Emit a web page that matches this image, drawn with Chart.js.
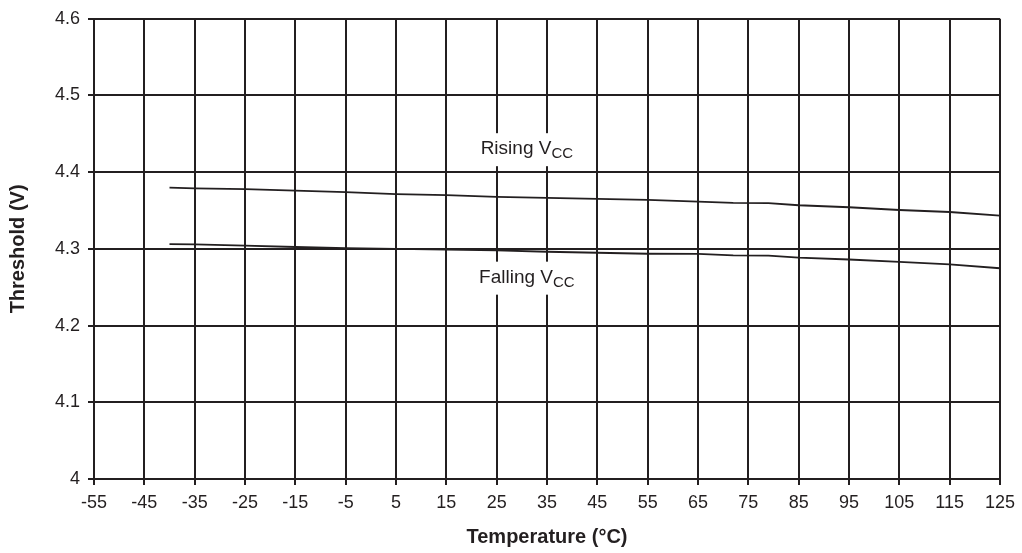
<!DOCTYPE html>
<html>
<head>
<meta charset="utf-8">
<script src="https://cdn.jsdelivr.net/npm/chart.js@4/dist/chart.umd.min.js"></script>
<style>
  html, body { margin: 0; padding: 0; background: #fff; }
  canvas { display: block; }
</style>
</head>
<body>
<canvas id="chart" width="1022" height="553"></canvas>
<script>
    "use strict";

    // temperatures (°C) of the sampled points
    var temps = [-40, -35, -25, -15, -5, 5, 15, 25, 35, 45, 55, 65, 72, 79, 85, 95, 105, 115, 125];
    // threshold (V)
    var rising = [4.380, 4.379, 4.378, 4.376, 4.374, 4.3715, 4.370, 4.3678, 4.3665, 4.3652, 4.3638, 4.3616, 4.3600, 4.3598, 4.3569, 4.3543, 4.3507, 4.3481, 4.3433];
    var falling = [4.3063, 4.3058, 4.3042, 4.3025, 4.301, 4.300, 4.299, 4.298, 4.2963, 4.295, 4.2937, 4.2935, 4.2915, 4.2913, 4.2885, 4.2862, 4.2832, 4.2797, 4.2748];

    var xTicks = [-55, -45, -35, -25, -15, -5, 5, 15, 25, 35, 45, 55, 65, 75, 85, 95, 105, 115, 125];
    var yTicks = [4, 4.1, 4.2, 4.3, 4.4, 4.5, 4.6];

    var ink = "#231f20";
    var fontFamily = "'Liberation Sans', Arial, sans-serif";

    function toPoints(ys) {
        var pts = [];
        for (var i = 0; i < temps.length; i++) {
            pts.push({ x: temps[i], y: ys[i] });
        }
        return pts;
    }

    // curve names with a subscript, on a white box
    var curveLabels = [
        { main: "Rising V", sub: "CC", x: 31, y: 4.430 },
        { main: "Falling V", sub: "CC", x: 31, y: 4.2625 }
    ];

    var labelPlugin = {
        id: "curveLabels",
        afterDatasetsDraw: function (chart) {
            var ctx = chart.ctx;
            var xs = chart.scales.x, ys = chart.scales.y;
            ctx.save();
            curveLabels.forEach(function (lb) {
                var cx = xs.getPixelForValue(lb.x);
                var cy = ys.getPixelForValue(lb.y);
                ctx.font = "19px " + fontFamily;
                var w1 = ctx.measureText(lb.main).width;
                ctx.font = "15px " + fontFamily;
                var w2 = ctx.measureText(lb.sub).width;
                var w = w1 + w2;
                var left = cx - w / 2;
                ctx.fillStyle = "#fff";
                ctx.fillRect(left - 5, cy - 16, w + 10, 33);
                ctx.fillStyle = ink;
                ctx.textBaseline = "middle";
                ctx.textAlign = "left";
                ctx.font = "19px " + fontFamily;
                ctx.fillText(lb.main, left, cy);
                ctx.font = "15px " + fontFamily;
                ctx.fillText(lb.sub, left + w1, cy + 5);
            });
            ctx.restore();
        }
    };

    var lineStyle = {
        borderColor: ink,
        borderWidth: 1.8,
        pointRadius: 0,
        tension: 0,
        fill: false
    };

    new Chart(document.getElementById("chart").getContext("2d"), {
        type: "line",
        data: {
            datasets: [
                Object.assign({ label: "Rising VCC", data: toPoints(rising) }, lineStyle),
                Object.assign({ label: "Falling VCC", data: toPoints(falling) }, lineStyle)
            ]
        },
        options: {
            responsive: false,
            animation: false,
            devicePixelRatio: 1,
            layout: { padding: { top: 17, right: 22, left: 0, bottom: 0 } },
            plugins: {
                legend: { display: false },
                tooltip: { enabled: false }
            },
            scales: {
                x: {
                    type: "linear",
                    min: -55,
                    max: 125,
                    afterBuildTicks: function (scale) {
                        scale.ticks = xTicks.map(function (v) { return { value: v }; });
                    },
                    afterFit: function (scale) { scale.height = 74; },
                    grid: { color: ink, lineWidth: 2, tickLength: 6, drawTicks: true },
                    border: { display: true, color: ink, width: 2 },
                    ticks: {
                        color: ink,
                        font: { family: fontFamily, size: 18 },
                        padding: 7,
                        maxRotation: 0,
                        autoSkip: false
                    },
                    title: {
                        display: true,
                        text: "Temperature (°C)",
                        color: ink,
                        font: { family: fontFamily, size: 20, weight: "bold" },
                        padding: { top: 0, bottom: 4 }
                    }
                },
                y: {
                    type: "linear",
                    min: 4,
                    max: 4.6,
                    afterBuildTicks: function (scale) {
                        scale.ticks = yTicks.map(function (v) { return { value: v }; });
                    },
                    afterFit: function (scale) { scale.width = 94; },
                    grid: { color: ink, lineWidth: 2, tickLength: 6, drawTicks: true },
                    border: { display: true, color: ink, width: 2 },
                    ticks: {
                        color: ink,
                        font: { family: fontFamily, size: 18 },
                        padding: 8,
                        callback: function (v) { return String(Math.round(v * 10) / 10); }
                    },
                    title: {
                        display: true,
                        text: "Threshold (V)",
                        color: ink,
                        font: { family: fontFamily, size: 20, weight: "bold" },
                        padding: { top: 6, bottom: 0 }
                    }
                }
            }
        },
        plugins: [labelPlugin]
    });
</script>
</body>
</html>
